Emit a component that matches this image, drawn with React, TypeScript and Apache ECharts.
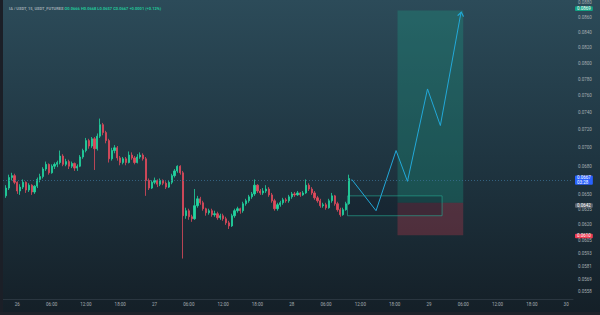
import React, { useEffect, useRef } from "react";
import * as echarts from "echarts";

// [open, close, low, high] — 30 min candles
const candles: [number, number, number, number][] = [
  [0.0649, 0.0657, 0.0647, 0.066], [0.0657, 0.0668, 0.0655, 0.0671], [0.0668, 0.067, 0.0665, 0.0673],
  [0.067, 0.0663, 0.0661, 0.0672], [0.0663, 0.0654, 0.0651, 0.0664], [0.0654, 0.0658, 0.065, 0.0661],
  [0.0658, 0.0663, 0.0656, 0.0666], [0.0663, 0.0655, 0.0652, 0.0664], [0.0655, 0.066, 0.0653, 0.0662],
  [0.066, 0.0653, 0.065, 0.0661], [0.0653, 0.0659, 0.0651, 0.066], [0.0659, 0.0666, 0.0657, 0.0668],
  [0.0666, 0.0669, 0.0663, 0.0672], [0.0669, 0.0677, 0.0667, 0.0679], [0.0677, 0.0682, 0.0675, 0.0685],
  [0.0682, 0.0673, 0.0671, 0.0683], [0.0673, 0.068, 0.0672, 0.0682], [0.068, 0.0682, 0.0677, 0.0684],
  [0.0682, 0.0684, 0.0679, 0.0686], [0.0684, 0.0691, 0.0682, 0.0697], [0.0691, 0.0682, 0.068, 0.0693],
  [0.0682, 0.0685, 0.068, 0.0688], [0.0685, 0.068, 0.0677, 0.0687], [0.068, 0.0683, 0.0678, 0.0685],
  [0.0683, 0.0678, 0.0675, 0.0684], [0.0678, 0.068, 0.0675, 0.0682], [0.068, 0.069, 0.0679, 0.0692],
  [0.069, 0.0697, 0.0688, 0.0699], [0.0697, 0.0708, 0.0695, 0.0711], [0.0708, 0.0702, 0.0699, 0.071],
  [0.0702, 0.071, 0.07, 0.0712], [0.071, 0.0699, 0.0676, 0.0712], [0.0699, 0.0713, 0.0697, 0.0716],
  [0.0713, 0.0726, 0.0711, 0.0733], [0.0726, 0.0717, 0.0714, 0.0728], [0.0717, 0.0708, 0.0705, 0.0719],
  [0.0708, 0.0688, 0.0684, 0.071], [0.0688, 0.0697, 0.0686, 0.07], [0.0697, 0.07, 0.0694, 0.0703],
  [0.07, 0.0689, 0.0686, 0.0702], [0.0689, 0.0684, 0.0681, 0.0691], [0.0684, 0.0688, 0.0682, 0.069],
  [0.0688, 0.0684, 0.0681, 0.069], [0.0684, 0.0692, 0.0683, 0.0696], [0.0692, 0.0689, 0.0687, 0.0695],
  [0.0689, 0.0684, 0.0682, 0.0691], [0.0684, 0.069, 0.0683, 0.0693], [0.069, 0.0692, 0.0688, 0.0695],
  [0.0692, 0.0688, 0.0686, 0.0694], [0.0688, 0.0665, 0.0649, 0.069], [0.0665, 0.0657, 0.0655, 0.0667],
  [0.0657, 0.0663, 0.0656, 0.0665], [0.0663, 0.0665, 0.0661, 0.0668], [0.0665, 0.0661, 0.0658, 0.0666],
  [0.0661, 0.0665, 0.0659, 0.0667], [0.0665, 0.0662, 0.066, 0.0666], [0.0662, 0.0658, 0.0656, 0.0664],
  [0.0658, 0.0663, 0.0657, 0.0665], [0.0663, 0.067, 0.0661, 0.0672], [0.067, 0.0675, 0.0668, 0.0677],
  [0.0675, 0.068, 0.0673, 0.0681], [0.068, 0.0673, 0.0671, 0.0681], [0.0673, 0.0629, 0.0588, 0.0675],
  [0.0629, 0.0634, 0.0626, 0.0637], [0.0634, 0.0628, 0.0625, 0.0636], [0.0628, 0.0626, 0.0623, 0.063],
  [0.0626, 0.0639, 0.0625, 0.0656], [0.0639, 0.0646, 0.0637, 0.0649], [0.0646, 0.0642, 0.064, 0.0648],
  [0.0642, 0.0636, 0.0634, 0.0644], [0.0636, 0.0632, 0.0629, 0.0637], [0.0632, 0.0634, 0.063, 0.0636],
  [0.0634, 0.063, 0.0628, 0.0636], [0.063, 0.0631, 0.0628, 0.0634], [0.0631, 0.0627, 0.0625, 0.0633],
  [0.0627, 0.0629, 0.0625, 0.0631], [0.0629, 0.0626, 0.0624, 0.0631], [0.0626, 0.0622, 0.062, 0.0628],
  [0.0622, 0.0619, 0.0616, 0.0624], [0.0619, 0.0629, 0.0618, 0.0631], [0.0629, 0.0634, 0.0627, 0.0636],
  [0.0634, 0.0636, 0.0632, 0.0638], [0.0636, 0.0634, 0.0631, 0.0637], [0.0634, 0.0641, 0.0632, 0.0643],
  [0.0641, 0.0644, 0.0639, 0.0646], [0.0644, 0.0648, 0.0642, 0.065], [0.0648, 0.0651, 0.0646, 0.0653],
  [0.0651, 0.066, 0.0649, 0.0666], [0.066, 0.0654, 0.0652, 0.0661], [0.0654, 0.0652, 0.065, 0.0656],
  [0.0652, 0.0654, 0.065, 0.0657], [0.0654, 0.0656, 0.0652, 0.066], [0.0656, 0.065, 0.0648, 0.0658],
  [0.065, 0.0644, 0.0642, 0.0652], [0.0644, 0.0636, 0.0634, 0.0646], [0.0636, 0.064, 0.0634, 0.0642],
  [0.064, 0.0642, 0.0638, 0.0644], [0.0642, 0.0645, 0.064, 0.0647], [0.0645, 0.0644, 0.0642, 0.0647],
  [0.0644, 0.0648, 0.0642, 0.065], [0.0648, 0.0651, 0.0646, 0.0653], [0.0651, 0.065, 0.0648, 0.0653],
  [0.065, 0.0652, 0.0649, 0.0654], [0.0652, 0.065, 0.0648, 0.0653], [0.065, 0.0652, 0.0649, 0.0654],
  [0.0652, 0.066, 0.0651, 0.0666], [0.066, 0.0656, 0.0654, 0.0662], [0.0656, 0.0652, 0.065, 0.0658],
  [0.0652, 0.0647, 0.0645, 0.0654], [0.0647, 0.0644, 0.0642, 0.0649], [0.0644, 0.0639, 0.0637, 0.0646],
  [0.0639, 0.064, 0.0637, 0.0642], [0.064, 0.0637, 0.0635, 0.0642], [0.0637, 0.0644, 0.0636, 0.0646],
  [0.0644, 0.0649, 0.0642, 0.0652], [0.0649, 0.0641, 0.0639, 0.065], [0.0641, 0.0635, 0.0633, 0.0643],
  [0.0635, 0.063, 0.0628, 0.0637], [0.063, 0.0635, 0.0629, 0.0637], [0.0635, 0.0641, 0.0634, 0.0643],
  [0.0641, 0.0667, 0.064, 0.0671],
];
const candleStartHour = -2; // hours from 26 00:00
const candleStepHours = 0.5;

const yTickPrices = [
  0.088, 0.086, 0.084, 0.082, 0.08, 0.078, 0.076, 0.074, 0.072, 0.07, 0.068,
  0.065, 0.0635, 0.062, 0.0605, 0.0593, 0.0581, 0.0569, 0.0558,
];
const xTickHours = [0, 6, 12, 18, 24, 30, 36, 42, 48, 54, 60, 66, 72, 78, 84, 90, 96];
const firstDay = 26;

// projected path
const projHours = [58.5, 62.75, 66.25, 68.25, 71.75, 74.0, 77.6];
const projPrices = [0.0666, 0.0634, 0.0697, 0.0664, 0.0768, 0.0725, 0.0866];

// long position tool
const positionStartHour = 66.5;
const positionEndHour = 78;
const targetPrice = 0.0869;
const entryPrice = 0.0642;
const stopPrice = 0.061;

// zone box
const zoneStartHour = 57.75;
const zoneEndHour = 74.3;
const zoneTop = 0.0649;
const zoneBottom = 0.0629;

const lastPrice = 0.0667;
const countdown = "03:28";

const L = Math.log;
const FONT = "Roboto";

export default function App() {
  const ref = useRef<HTMLDivElement>(null);
  useEffect(() => {
    if (!ref.current) return;
    const chart = echarts.init(ref.current, null, { renderer: "svg" });
    const candleData = candles.map((c, i) => [
      candleStartHour + candleStepHours * i,
      L(c[0]), L(c[1]), L(c[2]), L(c[3]),
    ]);
    const projData: any[] = projHours.map((h, i) => {
      const item: any = { value: [h, L(projPrices[i])] };
      if (i === projHours.length - 1) {
        item.symbol = "path://M0,6 L4,0 L8,6";
        item.symbolSize = [6, 4];
        item.symbolRotate = -10;
        item.symbolOffset = [0, 1.5];
        item.itemStyle = { color: "rgba(0,0,0,0)", borderColor: "#22a8d8", borderWidth: 1 };
      }
      return item;
    });
    const tag = (bg: string) => ({
      show: true,
      position: "end",
      distance: 2,
      color: "#ffffff",
      fontFamily: FONT,
      fontSize: 4.5,
      lineHeight: 4.6,
      backgroundColor: bg,
      padding: [0, 2, 0, 2],
      borderRadius: 1,
    });
    const hidden = { color: "rgba(0,0,0,0)", width: 0 };
    chart.setOption({
      animation: false,
      backgroundColor: new echarts.graphic.LinearGradient(0, 0, 0, 1, [
        { offset: 0, color: "#2c4b59" },
        { offset: 0.5, color: "#1f3541" },
        { offset: 1, color: "#141f27" },
      ]),
      title: {
        left: 4,
        top: 1,
        text: "{a|IA / USDT, 15, USDT_FUTURES }{b|O0.0666 H0.0668 L0.0657 C0.0667 +0.0001 (+0.12%)}",
        textStyle: {
          fontSize: 4,
          fontFamily: FONT,
          rich: {
            a: { color: "#9aa6ad", fontSize: 4, fontFamily: FONT },
            b: { color: "#22c79a", fontSize: 4, fontFamily: FONT },
          },
        },
      },
      grid: { left: 0, right: 27, top: 0, bottom: 16 },
      xAxis: {
        type: "value",
        min: -3.03,
        max: 97.2,
        axisLine: { show: true, lineStyle: { color: "#2a3640" } },
        axisTick: { show: false },
        splitLine: { show: false },
        axisLabel: {
          customValues: xTickHours,
          color: "#a5adb3",
          fontSize: 4.5,
          lineHeight: 4.6,
          fontFamily: FONT,
          margin: 3,
          formatter: (v: number) => {
            const h = Math.round(v);
            if (h % 24 === 0) return String(firstDay + h / 24);
            return String(h % 24).padStart(2, "0") + ":00";
          },
        },
      },
      yAxis: {
        type: "value",
        position: "right",
        min: L(0.05517),
        max: L(0.08812),
        scale: true,
        axisLine: { show: false },
        axisTick: { show: false },
        splitLine: { show: false },
        axisLabel: {
          customValues: yTickPrices.map((p) => L(p)),
          color: "#a5adb3",
          fontSize: 4.5,
          lineHeight: 4.6,
          fontFamily: FONT,
          margin: 5,
          formatter: (v: number) => Math.exp(v).toFixed(4),
        },
      },
      graphic: [
        { type: "rect", left: 0, top: 0, shape: { width: 3, height: 315 }, style: { fill: "#1b1f27" }, z: 100 },
        { type: "rect", left: 0, top: 312, shape: { width: 600, height: 3 }, style: { fill: "#1e222a" }, z: 100 },
      ],
      series: [
        {
          type: "candlestick",
          data: candleData,
          encode: { x: 0, y: [1, 2, 3, 4] },
          barWidth: 1.7,
          itemStyle: {
            color: "#22d6a0",
            color0: "#e04a5c",
            borderColor: "#22d6a0",
            borderColor0: "#e04a5c",
            borderWidth: 0.8,
          },
          markArea: {
            silent: true,
            data: [
              [
                { xAxis: positionStartHour, yAxis: L(targetPrice), itemStyle: { color: "rgba(24,170,140,0.28)" } },
                { xAxis: positionEndHour, yAxis: L(entryPrice) },
              ],
              [
                { xAxis: positionStartHour, yAxis: L(entryPrice), itemStyle: { color: "rgba(225,60,80,0.27)" } },
                { xAxis: positionEndHour, yAxis: L(stopPrice) },
              ],
              [
                {
                  xAxis: zoneStartHour,
                  yAxis: L(zoneTop),
                  itemStyle: { color: "rgba(10,20,35,0.25)", borderColor: "rgba(40,175,150,0.6)", borderWidth: 1 },
                },
                { xAxis: zoneEndHour, yAxis: L(zoneBottom) },
              ],
            ],
          },
          markLine: {
            silent: true,
            symbol: ["none", "none"],
            data: [
              {
                yAxis: L(lastPrice),
                lineStyle: { color: "#3a6d90", type: [1, 2], width: 0.8 },
                label: { ...tag("#2962ff"), formatter: `${lastPrice.toFixed(4)}\n${countdown}` },
              },
              { yAxis: L(targetPrice), lineStyle: hidden, label: { ...tag("#12a383"), formatter: targetPrice.toFixed(4) } },
              { yAxis: L(entryPrice), lineStyle: hidden, label: { ...tag("#5d6670"), formatter: entryPrice.toFixed(4) } },
              {
                yAxis: L(stopPrice),
                lineStyle: hidden,
                label: { ...tag("#ef3b52"), formatter: stopPrice.toFixed(4), offset: [0, -1.2] },
              },
            ],
          },
        },
        {
          type: "line",
          data: projData,
          symbol: "none",
          showSymbol: true,
          lineStyle: { color: "#22a8d8", width: 1 },
          itemStyle: { color: "#22a8d8" },
          z: 5,
        },
      ],
    });
    return () => chart.dispose();
  }, []);
  return (
    <div
      ref={ref}
      style={{ position: "absolute", left: 0, top: 0, width: 600, height: 315 }}
    />
  );
}
